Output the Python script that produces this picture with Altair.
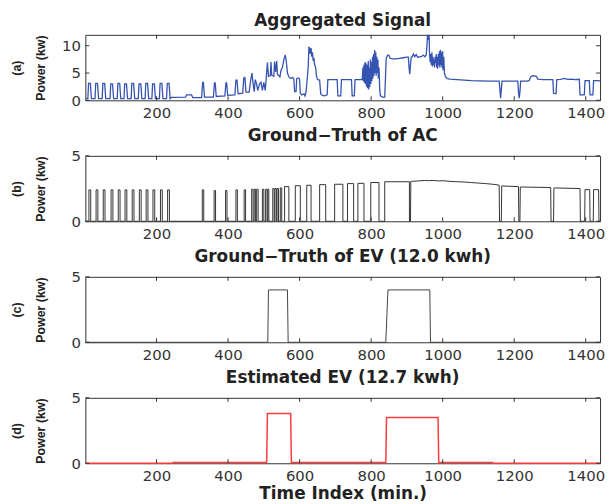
import altair as alt
import pandas as pd

# ---------------- data ----------------
x_ticks = [200, 400, 600, 800, 1000, 1200, 1400]

# (a) aggregated signal: (minute, kW) breakpoints
agg_part1 = [(1, 0.3), (8, 0.3), (10, 3.1), (15, 3.1), (18, 0.3),
             (28, 0.3), (30, 3.1), (35, 3.1), (38, 0.3),
             (48, 0.3), (50, 3.1), (55, 3.1), (58, 0.3),
             (70, 0.3), (72, 3.0), (77, 3.0), (80, 0.3),
             (90, 0.3), (92, 3.1), (97, 3.1), (100, 0.3),
             (109, 0.3), (111, 3.0), (116, 3.0), (119, 0.3),
             (129, 0.3), (131, 3.1), (136, 3.1), (139, 0.3),
             (149, 0.3), (151, 3.0), (156, 3.0), (159, 0.3),
             (168, 0.3), (170, 3.1), (175, 3.1), (178, 0.3),
             (187, 0.3), (189, 3.0), (194, 3.0), (197, 0.3),
             (208, 0.3), (210, 3.1), (215, 3.1), (218, 0.3),
             (228, 0.3), (230, 3.1), (235, 3.1), (238, 0.3)]
agg_part2 = [(242, 0.55), (281, 0.6), (284, 1.0), (298, 1.0), (301, 0.5), (326, 0.5),
             (329, 3.3), (331, 3.3), (334, 0.6), (359, 0.6), (362, 3.2), (364, 3.2), (367, 0.7),
             (391, 0.8), (394, 3.2), (396, 3.2), (399, 0.9), (419, 1.0), (422, 3.7), (425, 3.7),
             (428, 1.2), (441, 1.3), (444, 4.1), (447, 4.2), (450, 1.5), (459, 1.5), (463, 3.6),
             (467, 5.0), (470, 3.0), (473, 1.6), (476, 3.8), (479, 3.2), (483, 1.8), (488, 3.0),
             (492, 3.3), (496, 1.8), (500, 3.3), (504, 1.8), (507, 4.3), (510, 6.9), (513, 4.4)]
agg_part3 = [(518, 4.5), (520, 7.0), (522, 4.6), (528, 4.4), (530, 7.1), (533, 5.2), (536, 7.2),
             (538, 4.8), (545, 4.3), (548, 5.5), (552, 6.0), (556, 7.5), (560, 8.3), (563, 7.0),
             (566, 5.0), (570, 4.3), (575, 4.0), (580, 4.2), (584, 3.9), (586, 1.6), (590, 1.6),
             (592, 4.0), (598, 4.1), (600, 3.8), (602, 1.3), (606, 1.0), (612, 1.2), (615, 0.8),
             (618, 1.5), (620, 3.0), (624, 6.0), (626, 9.8), (628, 9.5), (630, 8.5), (632, 9.6),
             (634, 8.0), (636, 8.8), (638, 7.2), (640, 7.8), (642, 6.5), (645, 6.0), (647, 4.5),
             (650, 3.8), (656, 3.7), (659, 1.2), (664, 0.9), (670, 0.8), (677, 1.0), (679, 3.8),
             (705, 3.8), (707, 0.8), (715, 0.8), (717, 3.8), (745, 3.8), (747, 0.8), (753, 0.8),
             (755, 3.8), (775, 3.8)]
agg_part4 = [(777, 6.0), (778, 3.5), (780, 6.5), (781, 3.2), (783, 7.0), (784, 3.0), (786, 6.8),
             (787, 2.5), (789, 6.5), (790, 2.2), (792, 7.2), (793, 2.0), (795, 6.0), (796, 2.4),
             (798, 7.5), (799, 3.0), (801, 7.0), (802, 3.5), (804, 8.0), (805, 4.0), (807, 8.5),
             (808, 4.5), (810, 9.2), (811, 5.0), (813, 8.8), (814, 4.5), (816, 8.0), (817, 5.0),
             (819, 7.5), (820, 4.0), (822, 6.0), (824, 2.0), (826, 0.8), (832, 0.6), (838, 0.6),
             (840, 4.0), (842, 7.6), (846, 8.3), (850, 8.2), (853, 7.7), (860, 7.6), (870, 7.6),
             (880, 7.7), (890, 7.8), (900, 7.9), (904, 7.9), (906, 6.0), (908, 4.8), (910, 6.5),
             (912, 7.9), (915, 8.0), (918, 8.5), (922, 8.0), (926, 8.4), (930, 7.9), (940, 8.0),
             (946, 8.3), (950, 8.0), (954, 8.3), (956, 10.0), (958, 12.5), (960, 11.0), (962, 12.5),
             (963, 9.0), (965, 7.0)]
agg_part5 = [(967, 8.5), (968, 6.5), (970, 8.8), (971, 6.2), (973, 8.0), (974, 6.5), (976, 7.5),
             (977, 6.0), (979, 8.0), (980, 6.8), (982, 8.5), (983, 6.0), (985, 8.0), (986, 5.8),
             (988, 8.5), (989, 6.5), (991, 9.0), (992, 6.0), (994, 9.2), (995, 6.5), (997, 8.8),
             (998, 6.0), (1000, 9.0), (1001, 5.5), (1003, 8.0), (1005, 5.0), (1008, 4.3),
             (1012, 4.0), (1020, 3.9), (1040, 3.8), (1060, 3.7), (1080, 3.6), (1100, 3.55),
             (1130, 3.5), (1158, 3.5), (1160, 2.0), (1162, 0.4), (1164, 2.0), (1166, 3.5),
             (1190, 3.5), (1210, 3.5), (1212, 1.5), (1214, 0.4), (1216, 1.5), (1218, 3.5),
             (1235, 3.5), (1242, 3.6), (1246, 4.3), (1252, 4.5), (1262, 4.4), (1266, 3.9),
             (1280, 3.8), (1300, 3.8), (1308, 3.8), (1310, 1.3), (1317, 1.2), (1319, 3.8),
             (1330, 3.85), (1340, 4.0), (1350, 3.85), (1360, 3.9), (1370, 3.8), (1382, 3.85),
             (1384, 1.0), (1396, 1.0), (1398, 3.6), (1410, 3.6), (1412, 1.0), (1420, 1.0),
             (1422, 3.6), (1436, 3.6), (1440, 3.5)]

# (b) AC ground truth: on-periods (start, end, kW) and the long tail breakpoints
ac_pulses = [(11, 16, 2.4), (31, 36, 2.4), (51, 56, 2.4), (73, 78, 2.4), (93, 98, 2.4),
             (112, 117, 2.4), (132, 137, 2.4), (152, 157, 2.4), (171, 176, 2.4), (190, 195, 2.4),
             (211, 216, 2.4), (231, 236, 2.4),
             (328, 332, 2.4), (361, 365, 2.35), (393, 397, 2.35), (422, 426, 2.4), (445, 449, 2.4),
             (466, 470, 2.45), (473, 477, 2.45), (480, 484, 2.45), (496, 500, 2.45), (505, 509, 2.45),
             (511, 514, 2.45), (525, 529, 2.5), (531, 535, 2.5), (537, 541, 2.5), (546, 550, 2.55),
             (558, 570, 2.65), (588, 602, 2.72), (620, 632, 2.75), (656, 673, 2.8), (698, 721, 2.83),
             (734, 751, 2.88), (763, 780, 2.9), (799, 822, 2.96), (838, 907, 3.02)]
ac_tail = [(910, 0), (911, 3.05), (930, 3.08), (950, 3.12), (960, 3.1), (975, 3.12), (990, 3.08),
           (1000, 3.1), (1020, 3.05), (1040, 3.02), (1060, 3.0), (1080, 2.96), (1100, 2.92),
           (1120, 2.88), (1140, 2.83), (1158, 2.76), (1159, 0), (1164, 0), (1165, 2.7),
           (1212, 2.65), (1213, 0), (1216, 0), (1217, 2.62), (1302, 2.58), (1303, 0), (1310, 0),
           (1311, 2.55), (1384, 2.5), (1385, 0), (1397, 0), (1398, 2.42), (1411, 2.42), (1412, 0),
           (1421, 0), (1422, 2.42), (1436, 2.42), (1437, 0), (1440, 0)]

# (c) EV ground truth, (d) estimated EV
ev_true = [(1, 0), (511, 0), (513, 4.0), (566, 4.0), (568, 0), (841, 0), (847, 4.0),
           (964, 4.0), (966, 0), (1440, 0)]
ev_est = [(1, 0), (245, 0), (246, 0.06), (508, 0.06), (510, 3.8), (575, 3.8), (577, 0.06),
          (841, 0.06), (843, 3.5), (987, 3.5), (989, 0.06), (1140, 0.06), (1141, 0), (1440, 0)]

# ---------------- build tables ----------------
def frame(points):
    return pd.DataFrame({"t": [p[0] for p in points], "v": [p[1] for p in points],
                         "i": list(range(len(points)))})

agg_df = frame(agg_part1 + agg_part2 + agg_part3 + agg_part4 + agg_part5)
ac_points = [(1, 0)]
for s, e, lv in ac_pulses:
    ac_points += [(s, 0), (s, lv), (e, lv), (e, 0)]
ac_points += ac_tail
ac_df = frame(ac_points)
evt_df = frame(ev_true)
eve_df = frame(ev_est)

W, H = 519, 66
FRAME = "#333333"
xs = alt.Scale(domain=[1, 1440], nice=False, zero=False)


def panel(df, color, ymax, yticks, letter, title, sw=1.2, clip=False, xtitle=None):
    if xtitle:
        xaxis = alt.Axis(values=x_ticks, format="d", title=xtitle, titleFont="DejaVu Sans",
                         titleFontSize=17, titleFontWeight="bold", titleColor="#222",
                         titlePadding=3)
    else:
        xaxis = alt.Axis(values=x_ticks, format="d", title=None)
    yaxis = alt.Axis(values=yticks, format="d", title=["(" + letter + ")", "Power (kw)"],
                     titleX=-69, titleY=H / 2, titleAngle=270, titleBaseline="middle",
                     titleAlign="center", titleLineHeight=24)
    ys = alt.Scale(domain=[0, ymax], nice=False, zero=True)
    line = alt.Chart(df).mark_line(color=color, strokeWidth=sw, clip=clip).encode(
        x=alt.X("t:Q", scale=xs, axis=xaxis),
        y=alt.Y("v:Q", scale=ys, axis=yaxis),
        order="i:Q")
    xt = pd.DataFrame({"t": x_ticks})
    yt = pd.DataFrame({"v": yticks})
    xb = alt.Chart(xt).mark_rule(color=FRAME).encode(
        x=alt.X("t:Q", scale=xs, axis=xaxis), y=alt.value(H), y2=alt.value(H - 4))
    xtp = alt.Chart(xt).mark_rule(color=FRAME).encode(
        x=alt.X("t:Q", scale=xs, axis=xaxis), y=alt.value(0), y2=alt.value(4))
    yl = alt.Chart(yt).mark_rule(color=FRAME).encode(
        y=alt.Y("v:Q", scale=ys, axis=yaxis), x=alt.value(0), x2=alt.value(4))
    yr = alt.Chart(yt).mark_rule(color=FRAME).encode(
        y=alt.Y("v:Q", scale=ys, axis=yaxis), x=alt.value(W), x2=alt.value(W - 4))
    return alt.layer(line, xb, xtp, yl, yr).properties(
        width=W, height=H,
        title=alt.TitleParams(title, font="DejaVu Sans", fontSize=17, fontWeight="bold",
                              color="#222", offset=4, anchor="middle"))


pa = panel(agg_df, "#3553b0", 12, [0, 5, 10], "a", "Aggregated Signal", sw=1.3, clip=True)
pb = panel(ac_df, "#333333", 5, [0, 5], "b", "Ground\u2212Truth of AC", sw=1.0)
pc = panel(evt_df, "#444444", 5, [0, 5], "c", "Ground\u2212Truth of EV (12.0 kwh)", sw=1.0)
pd_ = panel(eve_df, "#ff3b3b", 5, [0, 5], "d", "Estimated EV (12.7 kwh)", sw=1.5,
            xtitle="Time Index (min.)")

chart = alt.vconcat(pa, pb, pc, pd_, spacing=5).properties(
    padding={"left": 2, "right": 0, "top": 2, "bottom": 0}
).configure_view(stroke=FRAME, strokeWidth=1).configure_axis(
    labelFont="DejaVu Sans", labelFontSize=15, labelColor="#333", ticks=False, domain=False,
    grid=False, labelPadding=5, titleFont="Liberation Sans", titleFontSize=12.5,
    titleFontWeight="bold", titleColor="#222")

chart.save("out.html", embed_options={"renderer": "svg", "actions": False})
